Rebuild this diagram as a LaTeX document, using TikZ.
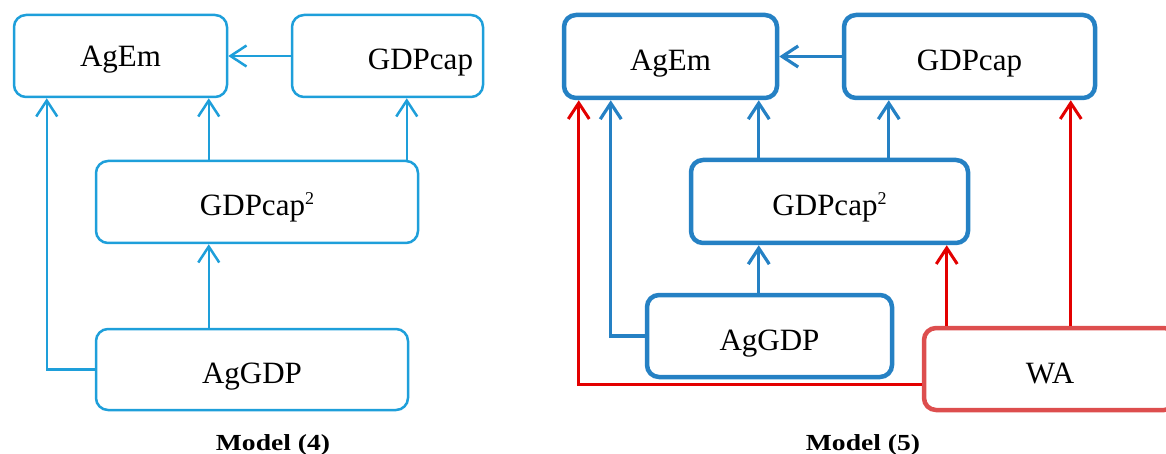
\documentclass[tikz,border=0pt]{standalone}
\usepackage{fontspec}
\setmainfont{Liberation Serif}
\newfontfamily\modelfont[FakeStretch=1.2]{Liberation Serif}
\usetikzlibrary{arrows.meta}
\definecolor{lblue}{HTML}{1E9FDA}
\definecolor{dblue}{HTML}{2581C4}
\definecolor{lred}{HTML}{E30000}
\definecolor{wared}{HTML}{DD4E4E}
\newcommand{\sqtwo}{\raisebox{11pt}{\fontsize{18}{18}\selectfont 2}}
\begin{document}
\begin{tikzpicture}[x=1pt,y=-1pt,
  box/.style={draw, rounded corners=12pt, inner sep=0pt, text=black,
              text height=28pt, text depth=0pt,
              font=\fontsize{31}{31}\selectfont},
  lbox/.style={box, draw=lblue, line width=2.5pt},
  rbox/.style={box, draw=dblue, line width=4.5pt},
  wabox/.style={box, draw=wared, line width=4.5pt},
  tip/.style={-{Straight Barb[length=16pt,width=21pt]}},
  larr/.style={tip, draw=lblue, line width=2.5pt},
  rarr/.style={tip, draw=dblue, line width=3.2pt},
  redarr/.style={tip, draw=lred, line width=3pt},
  lab/.style={font=\modelfont\bfseries\fontsize{23}{23}\selectfont, anchor=base}]
\clip (0,0) rectangle (1166,454);
% ---- Model (4)
\node[lbox, minimum width=213pt, minimum height=82pt, text height=22pt] (agemL) at (120.5,56) {AgEm};
\node[lbox, minimum width=191pt, minimum height=82pt, text width=171pt, align=right] (gdpL) at (387.5,56) {GDPcap};
\node[lbox, minimum width=322pt, minimum height=82pt] (g2L) at (257,202) {GDPcap\sqtwo};
\node[lbox, minimum width=312pt, minimum height=81pt] (aggdpL) at (252,369.5) {AgGDP};
\draw[larr] (gdpL.west) -- (agemL.east);
\draw[larr] (aggdpL.west) -| ([xshift=34pt]agemL.south west);
\draw[larr] ([xshift=114pt]g2L.north west) -- ([xshift=114pt]g2L.north west |- agemL.south);
\draw[larr] ([xshift=312pt]g2L.north west) -- ([xshift=312pt]g2L.north west |- gdpL.south);
\draw[larr] ([xshift=114pt]aggdpL.north west) -- ([xshift=114pt]aggdpL.north west |- g2L.south);
\node[lab] (m4) at (273,450) {Model (4)};
% ---- Model (5)
\node[rbox, minimum width=213pt, minimum height=83pt] (agemR) at (670.5,56.5) {AgEm};
\node[rbox, minimum width=251pt, minimum height=83pt] (gdpR) at (969.5,56.5) {GDPcap};
\node[rbox, minimum width=277pt, minimum height=83pt] (g2R) at (829.5,201.5) {GDPcap\sqtwo};
\node[rbox, minimum width=245pt, minimum height=82pt] (aggdpR) at (769.5,336) {AgGDP};
\node[wabox, minimum width=252pt, minimum height=82pt] (waR) at (1050,369) {WA};
\draw[rarr] (gdpR.west) -- (agemR.east);
\draw[rarr] (aggdpR.west) -| ([xshift=49pt]agemR.south west);
\draw[rarr] ([xshift=70pt]g2R.north west) -- ([xshift=70pt]g2R.north west |- agemR.south);
\draw[rarr] ([xshift=200pt]g2R.north west) -- ([xshift=200pt]g2R.north west |- gdpR.south);
\draw[rarr] ([xshift=114pt]aggdpR.north west) -- ([xshift=114pt]aggdpR.north west |- g2R.south);
\draw[redarr] ([yshift=-15pt]waR.west) -| ([xshift=17pt]agemR.south west);
\draw[redarr] ([xshift=25pt]waR.north west) -- ([xshift=25pt]waR.north west |- g2R.south);
\draw[redarr] ([xshift=149pt]waR.north west) -- ([xshift=149pt]waR.north west |- gdpR.south);
\node[lab] (m5) at (863,450) {Model (5)};
\end{tikzpicture}
\end{document}
